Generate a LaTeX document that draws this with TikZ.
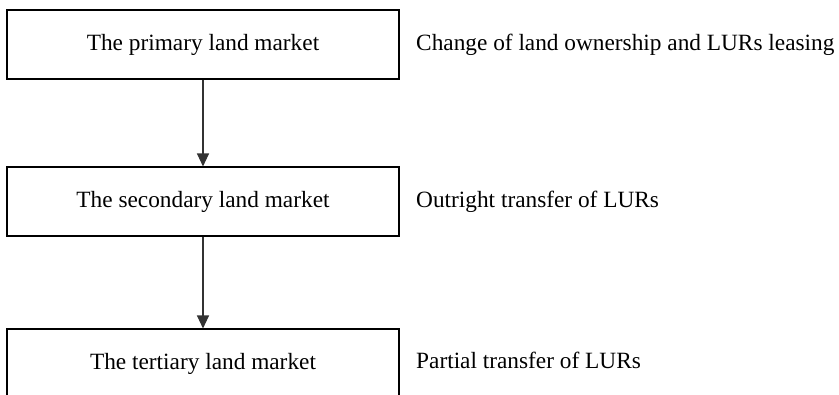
\documentclass[tikz,border=0pt]{standalone}
\usepackage{fontspec}
\setmainfont{Liberation Serif}
\usetikzlibrary{arrows.meta}
\begin{document}
\begin{tikzpicture}[x=1bp,y=-1bp,
  mbox/.style={draw=black,line width=1.1bp,minimum width=392bp,minimum height=69bp,inner sep=0pt,
    font=\fontsize{23.4}{28}\selectfont},
  side/.style={anchor=west,inner sep=0pt,font=\fontsize{23.4}{28}\selectfont},
  flow/.style={draw=black!80,line width=1.2bp,-{Triangle[length=13bp,width=12bp]}}]
\useasboundingbox (0,0) rectangle (839,394);
\clip (0,0) rectangle (839,394);
\node[mbox] (p) at (203,44.5) {The primary land market};
\node[mbox] (s) at (203,201.5) {The secondary land market};
\node[mbox] (t) at (203,363.5) {The tertiary land market};
\node[side] (pl) at (416,44.5) {Change of land ownership and LURs leasing};
\node[side] (sl) at (416,201.5) {Outright transfer of LURs};
\node[side] (tl) at (416,360) {Partial transfer of LURs};
\draw[flow] (p.south) -- (s.north);
\draw[flow] (s.south) -- (t.north);
\end{tikzpicture}
\end{document}
